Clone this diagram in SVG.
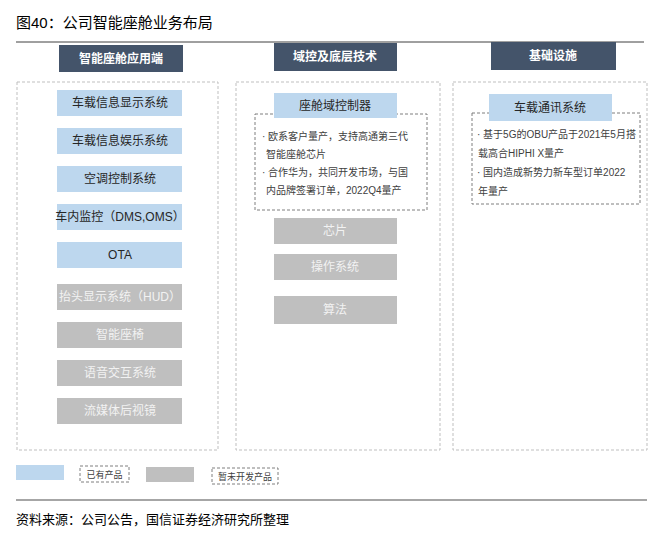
<svg xmlns="http://www.w3.org/2000/svg" width="660" height="533" viewBox="0 0 660 533">
<style>
text{font-family:"Liberation Sans","Noto Sans CJK SC",sans-serif;}
.hd{fill:#44546a}.hdt{fill:#fff;font-size:12px;font-weight:bold;text-anchor:middle}
.bl{fill:#bdd7ee}.gr{fill:#bfbfbf}
.bt{fill:#262626;font-size:12px;text-anchor:middle}
.gt{fill:#f2f2f2;font-size:12px;text-anchor:middle}
.dash{fill:none;stroke:#bfbfbf;stroke-dasharray:3,2}
.dash2{fill:#fff;stroke:#7f7f7f;stroke-dasharray:3,2}
.sm{fill:#404040;font-size:10px}
</style>
<rect width="660" height="533" fill="#fff"/>
<text x="16" y="28" font-size="15" fill="#000">图40：公司智能座舱业务布局</text>
<line x1="16" y1="42" x2="644" y2="42" stroke="#404040" stroke-width="1"/>
<g id="col1">
<rect class="hd" x="59" y="45" width="124" height="27"/><text class="hdt" x="121" y="63">智能座舱应用端</text>
<rect class="dash" x="17" y="82" width="201" height="368"/>
<rect class="bl" x="57" y="90" width="125" height="26"/><text class="bt" x="120" y="107">车载信息显示系统</text>
<rect class="bl" x="57" y="128" width="125" height="26"/><text class="bt" x="120" y="145">车载信息娱乐系统</text>
<rect class="bl" x="57" y="166" width="125" height="26"/><text class="bt" x="120" y="183">空调控制系统</text>
<rect class="bl" x="57" y="204" width="125" height="26"/><text class="bt" x="120" y="221">车内监控（DMS,OMS）</text>
<rect class="bl" x="57" y="242" width="125" height="26"/><text class="bt" x="120" y="259">OTA</text>
<rect class="gr" x="57" y="284" width="125" height="26"/><text class="gt" x="120" y="301">抬头显示系统（HUD）</text>
<rect class="gr" x="57" y="322" width="125" height="26"/><text class="gt" x="120" y="339">智能座椅</text>
<rect class="gr" x="57" y="360" width="125" height="26"/><text class="gt" x="120" y="377">语音交互系统</text>
<rect class="gr" x="57" y="398" width="125" height="26"/><text class="gt" x="120" y="415">流媒体后视镜</text>
</g>
<g id="col2">
<rect class="hd" x="274" y="43" width="123" height="28"/><text class="hdt" x="335" y="61">域控及底层技术</text>
<rect class="dash" x="236" y="82" width="204" height="368"/>
<rect class="dash2" x="255" y="114" width="172" height="96" stroke="#8497b0"/>
<rect class="bl" x="274" y="93" width="123" height="25"/><text class="bt" x="335" y="110">座舱域控制器</text>
<text class="sm" x="262" y="140">· 欧系客户量产，支持高通第三代</text>
<text class="sm" x="266" y="158">智能座舱芯片</text>
<text class="sm" x="262" y="176">· 合作华为，共同开发市场，与国</text>
<text class="sm" x="266" y="194">内品牌签署订单，2022Q4量产</text>
<rect class="gr" x="274" y="218" width="123" height="26"/><text class="gt" x="335" y="235">芯片</text>
<rect class="gr" x="274" y="254" width="123" height="26"/><text class="gt" x="335" y="271">操作系统</text>
<rect class="gr" x="274" y="296" width="123" height="28"/><text class="gt" x="335" y="314">算法</text>
</g>
<g id="col3">
<rect class="hd" x="491" y="42" width="125" height="28"/><text class="hdt" x="553" y="60">基础设施</text>
<rect class="dash" x="453" y="82" width="194" height="368"/>
<rect class="dash2" x="472" y="113" width="168" height="91" stroke="#8497b0"/>
<rect class="bl" x="489" y="94" width="123" height="27"/><text class="bt" x="550" y="112">车载通讯系统</text>
<text class="sm" x="477" y="138">· 基于5G的OBU产品于2021年5月搭</text>
<text class="sm" x="478" y="157">载高合HIPHI X量产</text>
<text class="sm" x="477" y="176">· 国内造成新势力新车型订单2022</text>
<text class="sm" x="478" y="195">年量产</text>
</g>
<g id="legend">
<rect class="bl" x="16" y="465" width="48" height="15"/>
<rect class="dash2" x="80" y="466" width="49" height="16" stroke="#404040"/><text x="104.5" y="478" font-size="9" fill="#404040" text-anchor="middle">已有产品</text>
<rect class="gr" x="146" y="467" width="48" height="15"/>
<rect class="dash2" x="212" y="468" width="66" height="16" stroke="#404040"/><text x="245" y="480" font-size="9" fill="#404040" text-anchor="middle">暂未开发产品</text>
</g>
<g id="connectors"></g>
<line x1="16" y1="500" x2="647" y2="500" stroke="#a6a6a6" stroke-width="2"/>
<text x="16" y="524" font-size="13" fill="#000">资料来源：公司公告，国信证券经济研究所整理</text>
</svg>
